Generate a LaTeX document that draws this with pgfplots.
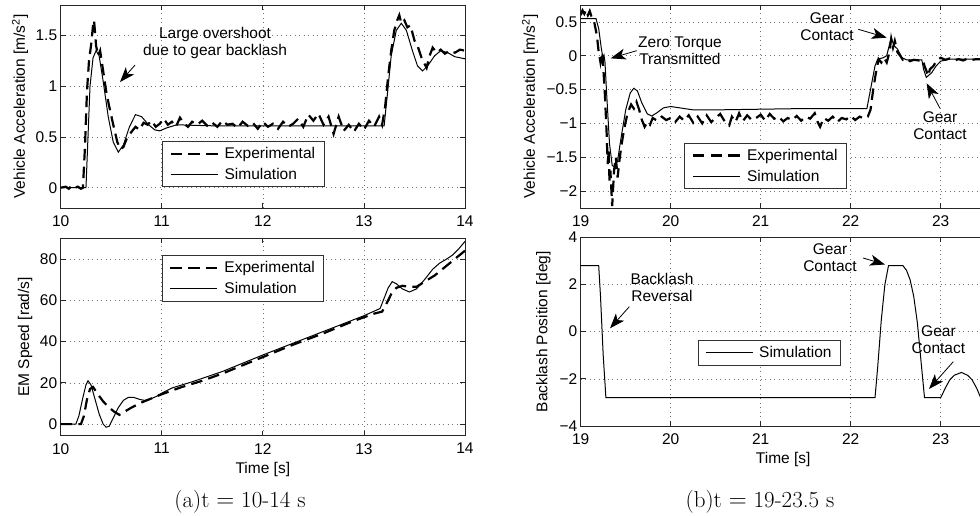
\documentclass[border=0pt]{standalone}
\usepackage{fontspec}
\usepackage{pgfplots}
\pgfplotsset{compat=1.18}
\usetikzlibrary{arrows.meta}
\newfontfamily\arial{Liberation Sans}
\newcommand{\af}{\arial\fontsize{15.5}{17}\selectfont}

\tikzset{
  expline/.style={black, line width=2.2pt, dash pattern=on 11.5pt off 6.25pt},
  simline/.style={black, line width=1pt},
  annarrow/.style={-{Stealth[length=15pt,width=11pt,inset=4pt]}, line width=0.8pt, black},
}
\pgfplotsset{
  mystyle/.style={
    scale only axis,
    font=\af,
    tick label style={font=\af},
    xticklabel style={yshift=-4pt},
    label style={font=\af},
    /pgf/number format/assume math mode=true,
    grid=major,
    grid style={black!55, dash pattern=on 1pt off 3.5pt, line width=0.6pt},
    axis line style={black!85, line width=0.9pt},
    tick align=inside,
    major tick length=5pt,
    tick style={black!85, line width=0.8pt},
    legend cell align=left,
    legend style={draw=black!80, line width=0.9pt, fill=white, font=\af,
      inner xsep=7pt, inner ysep=4pt, row sep=4pt, column sep=4pt,
      legend image code/.code={\draw[##1] (0pt,0pt) -- (47pt,0pt);}},
  },
}

\begin{document}
\begin{tikzpicture}
%================ top left =================
\begin{axis}[mystyle, at={(60.7pt,307pt)}, anchor=south west,
  width=404.3pt, height=203pt,
  xmin=10, xmax=14, ymin=-0.2, ymax=1.8,
  xtick={10,11,12,13,14}, ytick={0,0.5,1,1.5},
  ylabel={Vehicle Acceleration [m/s\textsuperscript{2}]},
  ylabel style={at={(axis description cs:-0.1007,0.5)}, anchor=center},
  legend style={at={(0.2505,0.330)}, anchor=north west}]
\addplot[expline] coordinates {
(10.00,0.00)(10.05,0.01)(10.08,-0.01)(10.11,0.02)(10.14,0.00)(10.17,0.01)(10.20,-0.01)(10.22,0.00)
(10.24,0.40)(10.26,0.95)(10.28,1.25)(10.30,1.40)(10.32,1.60)(10.33,1.65)(10.35,1.40)(10.37,1.30)
(10.39,1.35)(10.42,1.15)(10.45,0.95)(10.48,0.80)(10.52,0.62)(10.56,0.45)(10.59,0.38)(10.62,0.40)
(10.66,0.50)(10.70,0.55)(10.74,0.60)(10.78,0.57)(10.82,0.64)(10.86,0.62)(10.90,0.66)(10.94,0.60)
(10.98,0.63)(11.02,0.68)(11.06,0.62)(11.10,0.65)(11.14,0.60)(11.18,0.69)(11.22,0.63)(11.26,0.60)
(11.30,0.65)(11.35,0.62)(11.40,0.66)(11.45,0.61)(11.50,0.64)(11.55,0.60)(11.60,0.66)(11.65,0.62)
(11.70,0.63)(11.75,0.59)(11.80,0.65)(11.85,0.61)(11.90,0.64)(11.95,0.58)(12.00,0.65)(12.05,0.60)
(12.10,0.63)(12.15,0.58)(12.20,0.65)(12.25,0.60)(12.30,0.63)(12.35,0.68)(12.40,0.60)(12.45,0.72)
(12.50,0.66)(12.55,0.73)(12.60,0.62)(12.65,0.70)(12.70,0.53)(12.75,0.70)(12.80,0.56)(12.85,0.62)
(12.90,0.55)(12.95,0.63)(13.00,0.57)(13.05,0.66)(13.10,0.60)(13.15,0.70)(13.18,0.62)(13.21,0.80)
(13.24,1.10)(13.27,1.35)(13.30,1.55)(13.33,1.65)(13.35,1.70)(13.37,1.62)(13.40,1.65)(13.43,1.58)
(13.46,1.60)(13.50,1.45)(13.53,1.40)(13.57,1.28)(13.60,1.22)(13.62,1.18)(13.65,1.30)(13.68,1.38)
(13.72,1.33)(13.76,1.36)(13.80,1.32)(13.85,1.35)(13.90,1.33)(13.95,1.36)(14.00,1.35)};
\addlegendentry{Experimental}
\addplot[simline] coordinates {
(10,0)(10.25,0)(10.27,0.5)(10.29,1.0)(10.32,1.28)(10.35,1.35)(10.38,1.3)(10.42,1.05)(10.47,0.7)
(10.52,0.45)(10.57,0.35)(10.62,0.42)(10.68,0.6)(10.74,0.72)(10.8,0.7)(10.87,0.62)(10.93,0.57)
(10.98,0.56)(11.05,0.59)(11.15,0.62)(11.3,0.615)(11.5,0.61)(12,0.61)(13.0,0.61)(13.2,0.61)
(13.23,0.9)(13.27,1.3)(13.32,1.55)(13.37,1.62)(13.42,1.55)(13.48,1.35)(13.53,1.2)(13.58,1.15)
(13.63,1.2)(13.7,1.3)(13.76,1.35)(13.83,1.33)(13.9,1.29)(14,1.27)};
\addlegendentry{Simulation}
\node[align=center, font=\af] at (axis cs:11.527,1.421) {Large overshoot\\due to gear backlash};
\draw[annarrow] (axis cs:10.736,1.209) -- (axis cs:10.587,1.041);
\end{axis}
%================ bottom left =================
\begin{axis}[mystyle, at={(60.7pt,79.3pt)}, anchor=south west,
  width=404.3pt, height=197.4pt,
  xmin=10, xmax=14, ymin=-5.6, ymax=90,
  xtick={10,11,12,13,14}, ytick={0,20,40,60,80},
  ylabel={EM Speed [rad/s]}, xlabel={Time [s]},
  ylabel style={at={(axis description cs:-0.0883,0.5)}, anchor=center},
  xlabel style={at={(axis description cs:0.5,-0.172)}, anchor=center},
  legend style={at={(0.25,0.915)}, anchor=north west}]
\addplot[expline] coordinates {
(10.00,0)(10.20,0)(10.23,4)(10.26,12)(10.29,17)(10.32,18)(10.36,15)(10.42,11)(10.48,8)(10.53,6)
(10.58,4.5)(10.63,6)(10.70,8)(10.80,10.5)(10.90,12.5)(11.00,14.5)(11.20,18)(11.40,21)(11.60,24.5)
(11.80,28.5)(12.00,32.5)(12.30,38.5)(12.60,44)(12.90,50)(13.10,53.5)(13.18,54.5)(13.22,58)
(13.27,63)(13.32,66)(13.38,67)(13.45,66.5)(13.52,66.5)(13.60,69)(13.70,72)(13.80,76)(13.90,80)(14.00,84)};
\addlegendentry{Experimental}
\addplot[simline] coordinates {
(10.00,0)(10.15,0)(10.18,4)(10.22,13)(10.25,19)(10.27,21)(10.30,19)(10.34,12)(10.38,5)(10.42,0)
(10.45,-1.5)(10.48,-1)(10.52,3)(10.57,8)(10.62,11.5)(10.67,13)(10.72,13)(10.78,12)(10.83,11.5)
(10.88,12)(10.95,13.5)(11.00,15)(11.10,17.5)(11.30,20.5)(11.60,25.5)(12.00,33.5)(12.50,43)
(13.00,52.5)(13.16,56)(13.20,61)(13.24,66)(13.28,69)(13.32,68)(13.38,65.5)(13.45,64)(13.52,65.5)
(13.60,70)(13.68,75)(13.75,78)(13.82,80)(13.88,82)(13.94,85)(14.00,88.5)};
\addlegendentry{Simulation}
\end{axis}
%================ top right =================
\begin{axis}[mystyle, at={(580.7pt,307pt)}, anchor=south west,
  width=405pt, height=203pt,
  xmin=19, xmax=23.5, ymin=-2.25, ymax=0.75,
  xtick={19,20,21,22,23},
  ytick={-2,-1.5,-1,-0.5,0,0.5},
  yticklabels={−2,−1.5,−1,−0.5,0,0.5},
  ylabel={Vehicle Acceleration [m/s\textsuperscript{2}]},
  ylabel style={at={(axis description cs:-0.125,0.5)}, anchor=center},
  legend style={at={(0.256,0.322)}, anchor=north west}]
\addplot[expline] coordinates {
(19.00,0.60)(19.02,0.67)(19.04,0.62)(19.06,0.68)(19.08,0.60)(19.10,0.66)(19.12,0.58)(19.15,0.50)
(19.18,0.30)(19.20,0.05)(19.22,-0.10)(19.24,0.05)(19.25,-0.15)(19.27,-0.60)(19.29,-1.20)(19.30,-1.60)
(19.31,-1.40)(19.32,-1.85)(19.33,-1.70)(19.35,-2.22)(19.37,-1.70)(19.39,-1.50)(19.41,-1.80)(19.43,-1.55)
(19.45,-1.35)(19.48,-1.10)(19.52,-0.85)(19.56,-0.72)(19.59,-0.78)(19.62,-0.68)(19.65,-0.80)(19.68,-0.95)
(19.71,-1.05)(19.74,-0.98)(19.77,-1.02)(19.80,-0.92)(19.85,-0.96)(19.90,-0.90)(19.95,-0.95)(20.00,-0.92)
(20.05,-0.98)(20.10,-0.90)(20.15,-0.96)(20.20,-0.88)(20.25,-0.99)(20.30,-0.90)(20.35,-1.00)(20.40,-0.88)
(20.45,-0.98)(20.50,-0.92)(20.55,-0.86)(20.60,-0.97)(20.65,-1.03)(20.68,-0.90)(20.72,-0.98)(20.76,-0.85)
(20.80,-0.97)(20.85,-0.88)(20.90,-0.95)(20.95,-0.92)(21.00,-0.87)(21.05,-0.96)(21.10,-0.86)(21.15,-0.93)
(21.20,-0.90)(21.25,-0.97)(21.30,-0.92)(21.35,-0.95)(21.40,-0.89)(21.45,-0.96)(21.50,-0.90)(21.55,-0.93)
(21.60,-0.85)(21.63,-0.97)(21.66,-1.05)(21.70,-0.92)(21.75,-0.96)(21.80,-0.90)(21.85,-0.98)(21.90,-0.92)
(21.95,-0.94)(22.00,-0.89)(22.05,-0.95)(22.10,-0.90)(22.15,-0.93)(22.19,-0.90)(22.22,-0.80)(22.25,-0.50)
(22.28,-0.25)(22.31,-0.05)(22.34,-0.10)(22.37,-0.03)(22.40,-0.10)(22.43,0.05)(22.45,0.25)(22.47,0.12)
(22.49,0.22)(22.52,0.05)(22.55,0.00)(22.58,-0.06)(22.62,-0.04)(22.66,-0.08)(22.70,-0.06)(22.76,-0.07)
(22.80,-0.06)(22.82,-0.15)(22.84,-0.22)(22.86,-0.30)(22.88,-0.20)(22.92,-0.15)(22.95,-0.08)(23.00,-0.03)
(23.05,-0.06)(23.10,-0.04)(23.15,-0.07)(23.20,-0.05)(23.25,-0.07)(23.30,-0.04)(23.35,-0.06)(23.40,-0.05)(23.50,-0.06)};
\addlegendentry{Experimental}
\addplot[simline] coordinates {
(19.00,0.55)(19.17,0.55)(19.20,0.40)(19.23,0.10)(19.25,-0.05)(19.26,0.00)(19.27,-0.10)(19.29,-0.60)
(19.32,-1.30)(19.35,-1.62)(19.38,-1.65)(19.41,-1.55)(19.45,-1.20)(19.50,-0.80)(19.55,-0.55)(19.59,-0.48)
(19.63,-0.52)(19.68,-0.70)(19.74,-0.86)(19.79,-0.89)(19.85,-0.84)(19.92,-0.77)(20.00,-0.75)(20.10,-0.77)
(20.25,-0.80)(20.50,-0.80)(21.00,-0.79)(21.50,-0.78)(22.00,-0.78)(22.18,-0.78)(22.22,-0.50)(22.27,-0.15)
(22.30,-0.05)(22.36,-0.03)(22.40,0.00)(22.45,0.27)(22.48,0.15)(22.52,0.10)(22.57,-0.03)(22.62,-0.06)
(22.70,-0.06)(22.79,-0.06)(22.81,-0.20)(22.84,-0.32)(22.90,-0.25)(22.95,-0.15)(23.00,-0.08)(23.10,-0.05)(23.50,-0.05)};
\addlegendentry{Simulation}
\node[align=center, font=\af] at (axis cs:20.103,0.073) {Zero Torque\\Transmitted};
\draw[annarrow] (axis cs:19.622,0.075) -- (axis cs:19.333,-0.038);
\node[align=center, font=\af] at (axis cs:21.737,0.429) {Gear\\Contact};
\draw[annarrow] (axis cs:22.084,0.391) -- (axis cs:22.40,0.267);
\node[align=center, font=\af] at (axis cs:22.992,-1.038) {Gear\\Contact};
\draw[annarrow] (axis cs:22.992,-0.777) -- (axis cs:22.844,-0.407);
\end{axis}
%================ bottom right =================
\begin{axis}[mystyle, at={(580.7pt,89pt)}, anchor=south west,
  width=405pt, height=188.7pt,
  xmin=19, xmax=23.5, ymin=-4, ymax=4,
  xtick={19,20,21,22,23},
  ytick={-4,-2,0,2,4},
  yticklabels={−4,−2,0,2,4},
  ylabel={Backlash Position [deg]}, xlabel={Time [s]},
  ylabel style={at={(axis description cs:-0.092,0.5)}, anchor=center},
  xlabel style={at={(axis description cs:0.5,-0.18)}, anchor=center},
  legend style={at={(0.289,0.456)}, anchor=north west}]
\addplot[simline] coordinates {
(19.00,2.8)(19.20,2.8)(19.22,1.5)(19.25,-1.0)(19.27,-2.2)(19.28,-2.8)(22.27,-2.8)(22.30,-1.5)
(22.34,0.5)(22.38,2.0)(22.42,2.8)(22.58,2.8)(22.62,2.6)(22.66,2.2)(22.70,1.5)(22.74,0.4)(22.77,-0.8)
(22.80,-2.0)(22.82,-2.8)(23.00,-2.8)(23.05,-2.4)(23.10,-2.05)(23.15,-1.85)(23.23,-1.73)(23.30,-1.85)
(23.35,-2.05)(23.40,-2.4)(23.45,-2.85)(23.50,-3.3)};
\addlegendentry{Simulation}
\node[align=center, font=\af] at (axis cs:19.903,1.872) {Backlash\\Reversal};
\draw[annarrow] (axis cs:19.54,1.058) -- (axis cs:19.326,0.143);
\node[align=center, font=\af] at (axis cs:21.77,3.144) {Gear\\Contact};
\draw[annarrow] (axis cs:22.137,3.123) -- (axis cs:22.381,2.847);
\node[align=center, font=\af] at (axis cs:22.975,-0.354) {Gear\\Contact};
\draw[annarrow] (axis cs:23.14,-1.274) -- (axis cs:22.87,-2.43);
\end{axis}
%================ captions =================
\node[anchor=base, font=\fontsize{23}{27}\selectfont] at (240pt,8pt) {(a)t $=$ 10-14 s};
\node[anchor=base, font=\fontsize{23}{27}\selectfont] at (760pt,8pt) {(b)t $=$ 19-23.5 s};
\pgfresetboundingbox
\path[use as bounding box] (0pt,0pt) rectangle (980pt,515pt);
\end{tikzpicture}
\end{document}
